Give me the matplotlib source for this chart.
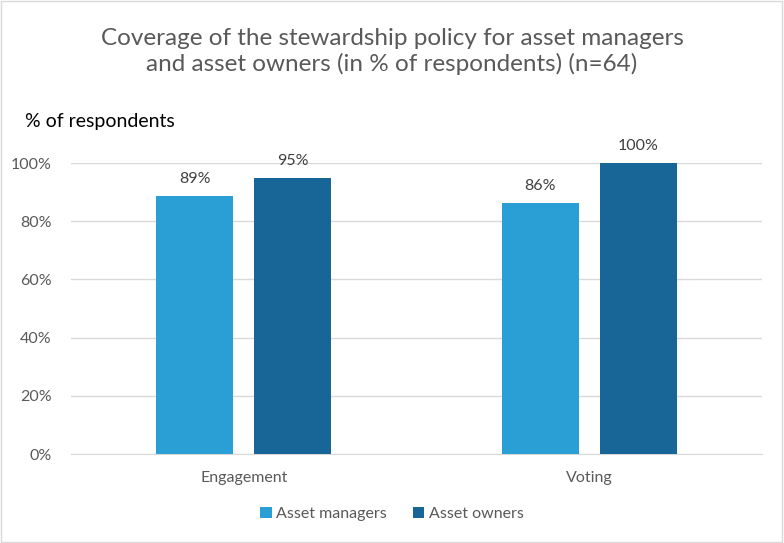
import matplotlib.pyplot as plt
import numpy as np

plt.rcParams["font.family"] = ["Lato", "DejaVu Sans"]

categories = ["Engagement", "Voting"]
series_names = ["Asset managers", "Asset owners"]
asset_managers = [88.5, 86.3]
asset_owners = [94.9, 100.0]
value_labels = [["89%", "86%"], ["95%", "100%"]]
colors = ["#2A9FD6", "#186697"]

fig = plt.figure(figsize=(7.84, 5.43), dpi=100)
ax = fig.add_axes([0.0906, 0.1639, 0.8814, 0.5359])

x = np.arange(len(categories))
width = 0.223
offset = 0.142
for i, (vals, name) in enumerate(zip([asset_managers, asset_owners], series_names)):
    pos = x + (-offset if i == 0 else offset)
    ax.bar(pos, vals, width, color=colors[i], label=name, zorder=3)
    for p, v, lab in zip(pos, vals, value_labels[i]):
        ax.text(p, v + 3.5, lab, ha="center", va="bottom", fontsize=11.5, color="#404040")

ax.set_xlim(-0.5, 1.5)
ax.set_ylim(0, 100)
ax.set_yticks(np.arange(0, 101, 20))
ax.set_yticklabels([f"{t}%" for t in range(0, 101, 20)], fontsize=11.5, color="#595959")
ax.set_xticks(x)
ax.set_xticklabels(categories, fontsize=11.5, color="#595959")
ax.tick_params(axis="x", length=0, pad=12)
ax.tick_params(axis="y", length=0, pad=14)
ax.yaxis.grid(True, color="#D9D9D9", linewidth=1, zorder=0)
for s in ["top", "right", "left"]:
    ax.spines[s].set_visible(False)
ax.spines["bottom"].set_color("#D9D9D9")

fig.text(0.5, 0.905, "Coverage of the stewardship policy for asset managers\nand asset owners (in % of respondents) (n=64)",
         ha="center", va="center", fontsize=17.5, color="#595959", linespacing=1.2)
fig.text(0.032, 0.777, "% of respondents", ha="left", va="center", fontsize=14, color="black")

fig.legend(loc="center", bbox_to_anchor=(0.5, 0.053), ncol=2, frameon=False,
           fontsize=11.5, handlelength=0.7, handleheight=0.7, handletextpad=0.3,
           columnspacing=1.6, labelcolor="#595959")

fig.patches.append(plt.Rectangle((0.001, 0.001), 0.997, 0.997, transform=fig.transFigure,
                                 fill=False, edgecolor="#D9D9D9", linewidth=1))

fig.savefig("out.png", dpi=100)
